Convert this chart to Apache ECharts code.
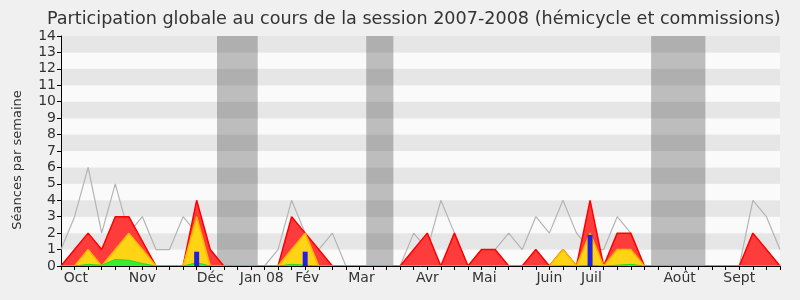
<!DOCTYPE html>
<html>
<head>
<meta charset="utf-8">
<script src="https://cdn.jsdelivr.net/npm/echarts@6/dist/echarts.min.js"></script>
<style>
  html, body { margin: 0; padding: 0; background: #f0f0f0; }
  #chart { width: 800px; height: 300px; }
</style>
</head>
<body>
<div id="chart"></div>
<script>
// semaines de la session (index 0 = première semaine d'octobre)
const weeks = Array.from({ length: 54 }, (_, i) => i);

// séances par semaine (ligne grise)
const seances = [1, 3, 6, 2, 5, 2, 3, 1, 1, 3, 2, 1, 0, 0, 0, 0, 1, 4, 2, 1, 2, 0, 0, 0, 0, 0, 2, 1, 4, 2, 0, 1, 1, 2, 1, 3, 2, 4, 2, 1, 1, 3, 2, 0, 0, 0, 0, 0, 0, 0, 0, 4, 3, 1];
// présences (rouge)
const presences = [0, 1, 2, 1, 3, 3, 1.5, 0, 0, 0, 4, 1, 0, 0, 0, 0, 0, 3, 2, 1, 0, 0, 0, 0, 0, 0, 1, 2, 0, 2, 0, 1, 1, 0, 0, 1, 0, 1, 0, 4, 0, 2, 2, 0, 0, 0, 0, 0, 0, 0, 0, 2, 1, 0];
// participations (jaune)
const participations = [0, 0, 1, 0, 1, 2, 1, 0, 0, 0, 3, 0, 0, 0, 0, 0, 0, 1, 2, 0, 0, 0, 0, 0, 0, 0, 0, 0, 0, 0, 0, 0, 0, 0, 0, 0, 0, 1, 0, 2, 0, 1, 1, 0, 0, 0, 0, 0, 0, 0, 0, 0, 0, 0];
// mots prononcés (vert)
const mots = [0, 0, 0.1, 0.05, 0.4, 0.35, 0.15, 0, 0, 0, 0.2, 0, 0, 0, 0, 0, 0, 0.1, 0.05, 0, 0, 0, 0, 0, 0, 0, 0, 0, 0, 0, 0, 0, 0, 0, 0, 0, 0, 0.02, 0, 0.05, 0, 0.05, 0.1, 0, 0, 0, 0, 0, 0, 0, 0, 0, 0, 0];
// questions (barres bleues)
const questionWeeks = [10, 18, 39];
const questions = [0.87, 0.87, 1.9];

// vacances parlementaires
const vacances = [[11.5, 14.5], [22.5, 24.5], [43.5, 47.5]];

// étiquettes des mois
const moisPos = [1.1, 6.0, 11.0, 14.8, 18.15, 22.15, 27.0, 31.2, 36.0, 39.1, 45.6, 50.0];
const mois = ['Oct', 'Nov', 'Déc', 'Jan 08', 'Fév', 'Mar', 'Avr', 'Mai', 'Juin', 'Juil', 'Août', 'Sept'];

const pair = (vals) => weeks.map((w, i) => [w, vals[i]]);

let myChart = echarts.init(document.getElementById('chart'));
let option = {
  backgroundColor: '#f0f0f0',
  animation: false,
  title: {
    text: 'Participation globale au cours de la session 2007-2008 (hémicycle et commissions)',
    left: 42,
    top: 5,
    textStyle: { fontFamily: 'DejaVu Sans', fontSize: 17.6, fontWeight: 'normal', color: '#333' }
  },
  grid: { left: 61, right: 20, top: 36, bottom: 34 },
  xAxis: {
    type: 'value',
    min: 0,
    max: 53,
    interval: 1,
    z: 10,
    axisLine: { lineStyle: { color: '#000' } },
    axisTick: { length: 4, lineStyle: { color: '#000' } },
    axisLabel: {
      customValues: moisPos,
      formatter: (v) => mois[moisPos.indexOf(v)] || '',
      fontFamily: 'DejaVu Sans',
      fontSize: 14,
      color: '#333',
      margin: 5
    },
    splitLine: { show: false }
  },
  yAxis: {
    type: 'value',
    min: 0,
    max: 14,
    interval: 1,
    name: 'Séances par semaine',
    nameLocation: 'middle',
    nameGap: 37,
    nameTextStyle: { fontFamily: 'DejaVu Sans', fontSize: 13, color: '#333', padding: [0, 18, 0, 0] },
    axisLine: { show: true, lineStyle: { color: '#000' } },
    axisTick: { show: true, length: 4, lineStyle: { color: '#000' } },
    axisLabel: { fontFamily: 'DejaVu Sans', fontSize: 14, color: '#333', margin: 5 },
    splitLine: { show: false },
    splitArea: { show: true, areaStyle: { color: ['#fafafa', '#e6e6e6'] } }
  },
  series: [
    {
      name: 'Séances',
      type: 'line',
      data: pair(seances),
      symbol: 'none',
      lineStyle: { color: '#b4b4b4', width: 1.2 },
      z: 1,
      markArea: {
        silent: true,
        itemStyle: { color: 'rgba(50,50,50,0.3)' },
        data: vacances.map(v => [{ xAxis: v[0] }, { xAxis: v[1] }])
      }
    },
    {
      name: 'Présences',
      type: 'line',
      data: pair(presences),
      symbol: 'none',
      lineStyle: { color: '#ff0000', width: 1.5 },
      areaStyle: { color: '#ff3c3c', opacity: 1 },
      z: 2
    },
    {
      name: 'Participations',
      type: 'line',
      data: pair(participations),
      symbol: 'none',
      lineStyle: { color: '#ffb400', width: 1.5 },
      areaStyle: { color: '#ffd414', opacity: 1 },
      z: 3
    },
    {
      name: 'Mots',
      type: 'line',
      data: pair(mots),
      symbol: 'none',
      lineStyle: { color: '#22dd22', width: 1 },
      areaStyle: { color: '#33ee33', opacity: 1 },
      z: 4
    },
    {
      name: 'Questions',
      type: 'bar',
      data: questionWeeks.map((w, i) => [w, questions[i]]),
      barWidth: 5,
      itemStyle: { color: '#2222dd' },
      z: 5
    }
  ]
};
myChart.setOption(option);
window.onresize = myChart.resize;
</script>
</body>
</html>
